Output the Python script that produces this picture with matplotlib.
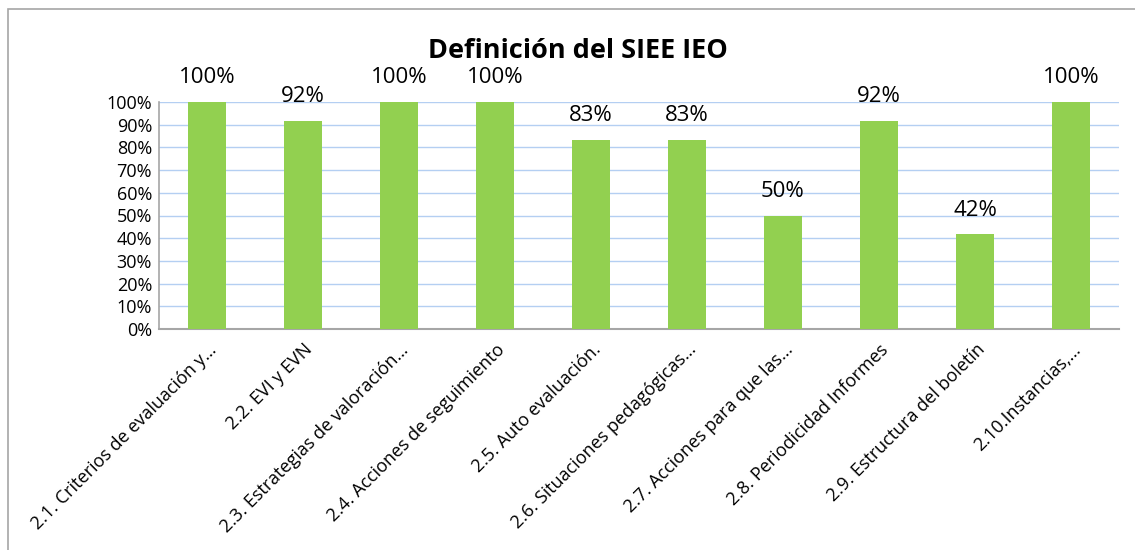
import matplotlib
matplotlib.use("Agg")
import matplotlib.pyplot as plt
from matplotlib.patches import Rectangle
from matplotlib.ticker import FuncFormatter, MultipleLocator
from matplotlib.transforms import ScaledTranslation

categories = [
    "2.1. Criterios de evaluación y…",
    "2.2. EVI y EVN",
    "2.3. Estrategias de valoración…",
    "2.4. Acciones de seguimiento",
    "2.5. Auto evaluación.",
    "2.6. Situaciones pedagógicas…",
    "2.7. Acciones para que las…",
    "2.8. Periodicidad Informes",
    "2.9. Estructura del boletín",
    "2.10.Instancias,…",
]
values = [1.0, 0.9167, 1.0, 1.0, 0.8333, 0.8333, 0.5, 0.9167, 0.4167, 1.0]
title = "Definición del SIEE IEO"

W, H = 1135, 550
fig = plt.figure(figsize=(W / 100, H / 100), dpi=100)
plt.rcParams['font.family'] = ['Open Sans', 'DejaVu Sans']

# outer chart border (left and top visible)
fig.patches.append(Rectangle((8 / W, -0.1), 1.2, (H - 9) / H + 0.1, transform=fig.transFigure,
                             fill=False, edgecolor='#A6A6A6', linewidth=1.2))

left, right = 159 / W, 1119 / W
top, bottom = 1 - 102 / H, 1 - 329 / H
ax = fig.add_axes([left, bottom, right - left, top - bottom])

x = range(len(categories))
ax.bar(x, values, width=0.4, color='#92D050', zorder=3)
ax.set_xlim(-0.5, len(categories) - 0.5)
ax.set_ylim(0, 1.0)
ax.yaxis.set_major_locator(MultipleLocator(0.1))
ax.yaxis.set_major_formatter(FuncFormatter(lambda v, p: f"{v*100:.0f}%"))
ax.grid(axis='y', color='#B4CFF2', linewidth=1.0, zorder=0)
ax.set_axisbelow(True)
for s in ['top', 'right']:
    ax.spines[s].set_visible(False)
ax.spines['left'].set_color('#A6A6A6')
ax.spines['bottom'].set_color('#A6A6A6')
ax.spines['left'].set_linewidth(1.2)
ax.spines['bottom'].set_linewidth(1.5)
ax.tick_params(axis='y', length=0, labelsize=13, pad=5)
ax.tick_params(axis='x', length=0, labelsize=13, pad=13)
ax.set_xticks(list(x))
ax.set_xticklabels(categories, rotation=45, ha='right', va='center', rotation_mode='anchor')
shift = ScaledTranslation(7 / 100, 0, fig.dpi_scale_trans)
for lbl in ax.get_xticklabels():
    lbl.set_transform(lbl.get_transform() + shift)

for xi, v in zip(x, values):
    ax.annotate(f"{v*100:.0f}%", (xi, v), xytext=(0, 10), textcoords='offset points',
                ha='center', va='bottom', fontsize=16, clip_on=False)

fig.text(578 / W, 1 - 51 / H, title, ha='center', va='center', fontsize=19.5, fontweight='bold')

fig.savefig("out.png", dpi=100)
